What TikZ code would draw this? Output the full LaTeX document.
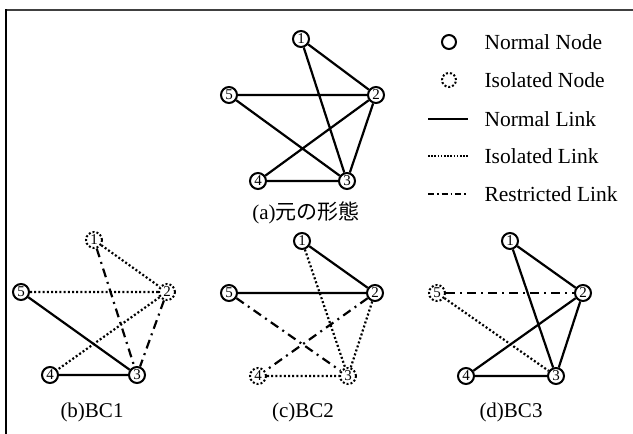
\documentclass[tikz,border=0pt]{standalone}
\usepackage{fontspec}
\setmainfont{Liberation Serif}
\newfontfamily\cjk{Noto Sans CJK JP}
\begin{document}
\begin{tikzpicture}[x=1pt,y=-1pt,
  nd/.style={circle,draw,line width=2pt,minimum size=16pt,inner sep=0pt,font=\fontsize{15}{15}\selectfont},
  iso/.style={circle,draw,line width=2pt,dash pattern=on 2pt off 2pt,minimum size=16pt,inner sep=0pt,font=\fontsize{15}{15}\selectfont},
  nl/.style={line width=2.2pt},
  il/.style={line width=2.2pt,dash pattern=on 2pt off 2.2pt},
  rl/.style={line width=2.2pt,dash pattern=on 9pt off 5pt on 2pt off 5pt},
  captxt/.style={font=\fontsize{21}{24}\selectfont},
  lg/.style={font=\fontsize{21.5}{24}\selectfont,anchor=west}]
\useasboundingbox (0,0) rectangle (633,434);
\draw[line width=1.8pt,black!75] (5,10) -- (633,10);
\draw[line width=2.4pt] (6,9) -- (6,434);
% (a)
\node[nd] (a1) at (301,39) {1};
\node[nd] (a2) at (376,95) {2};
\node[nd] (a5) at (229,95) {5};
\node[nd] (a4) at (258,181) {4};
\node[nd] (a3) at (347,181) {3};
\draw[nl] (a1)--(a2) (a1)--(a3) (a5)--(a2) (a5)--(a3) (a2)--(a4) (a2)--(a3) (a4)--(a3);
\node[captxt] (ca) at (306,213) {(a)\cjk 元の形態};
% (b)
\node[iso] (b1) at (94,240) {1};
\node[iso] (b2) at (167,292) {2};
\node[nd] (b5) at (21,292) {5};
\node[nd] (b4) at (50,375) {4};
\node[nd] (b3) at (137,375) {3};
\draw[il] (b1)--(b2) (b5)--(b2) (b2)--(b4);
\draw[rl] (b1)--(b3) (b2)--(b3);
\draw[nl] (b5)--(b3) (b4)--(b3);
\node[captxt] (cb) at (92,412) {(b)BC1};
% (c)
\node[nd] (c1) at (302,241) {1};
\node[nd] (c2) at (375,293) {2};
\node[nd] (c5) at (229,293) {5};
\node[iso] (c4) at (258,376) {4};
\node[iso] (c3) at (348,376) {3};
\draw[nl] (c1)--(c2) (c5)--(c2);
\draw[il] (c1)--(c3) (c2)--(c3) (c4)--(c3);
\draw[rl] (c5)--(c3) (c2)--(c4);
\node[captxt] (cc) at (303,412) {(c)BC2};
% (d)
\node[nd] (d1) at (510,241) {1};
\node[nd] (d2) at (583,293) {2};
\node[iso] (d5) at (437,293) {5};
\node[nd] (d4) at (466,376) {4};
\node[nd] (d3) at (556,376) {3};
\draw[nl] (d1)--(d2) (d1)--(d3) (d2)--(d4) (d2)--(d3) (d4)--(d3);
\draw[rl] (d5)--(d2);
\draw[il] (d5)--(d3);
\node[captxt] (cd) at (511,412) {(d)BC3};
% legend
\node[nd,minimum size=14pt] (l1) at (449,42) {};
\node[iso,minimum size=14pt] (l2) at (449,80) {};
\coordinate (l3a) at (428,119); \coordinate (l3b) at (468,119);
\coordinate (l4a) at (428,156); \coordinate (l4b) at (468,156);
\coordinate (l5a) at (428,194); \coordinate (l5b) at (468,194);
\draw[nl] (l3a)--(l3b);
\draw[line width=1.6pt,dash pattern=on 1.6pt off 1.6pt] (l4a)--(l4b);
\draw[line width=1.6pt,dash pattern=on 6pt off 3pt on 1.6pt off 3pt] (l5a)--(l5b);
\node[lg] (t1) at (481,42) {Normal Node};
\node[lg] (t2) at (481,80) {Isolated Node};
\node[lg] (t3) at (481,119) {Normal Link};
\node[lg] (t4) at (481,156) {Isolated Link};
\node[lg] (t5) at (481,194) {Restricted Link};
\end{tikzpicture}
\end{document}
